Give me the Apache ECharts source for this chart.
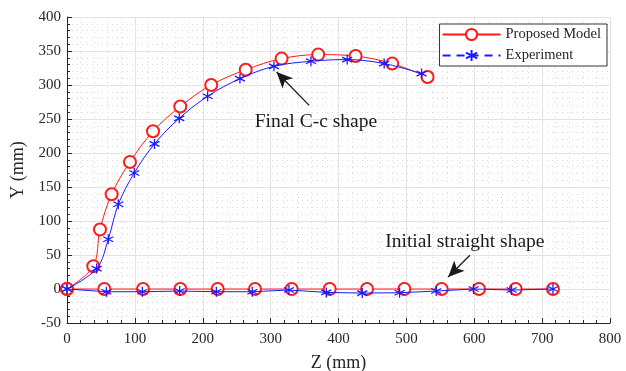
<!DOCTYPE html>
<html>
<head>
<meta charset="utf-8">
<script src="https://cdn.jsdelivr.net/npm/echarts@6/dist/echarts.min.js"></script>
<style>
  html, body { margin: 0; padding: 0; background: #fff; }
  #chart { width: 626px; height: 371px; }
</style>
</head>
<body>
<div id="chart"></div>
<script>
// final C-c shape (top curve)
const finalZModel = [0, 38.7, 48.6, 65.8, 92.8, 126.7, 166.9, 212.5, 263.3, 316.2, 370.1, 425.2, 479.1, 531.2];
const finalYModel = [0, 33.4, 87.4, 139.3, 186.8, 231.9, 268.4, 300.1, 322.4, 338.8, 344.7, 342.6, 331.5, 311.8];
const finalZExp = [0, 43.7, 60.8, 75.6, 99.1, 128.9, 165.4, 207.2, 254.8, 304.9, 359.4, 412.8, 467.3, 522.4];
const finalYExp = [0, 30, 73.1, 124.6, 170.6, 213.4, 251, 283.4, 309.4, 327.5, 334.9, 337.4, 331.5, 316.8];

// initial straight shape (bottom line)
const initZModel = [0, 55, 112, 167, 222, 277, 331, 387, 442, 497, 552, 607, 661, 716];
const initYModel = [0, 0, 0, 0, 0, 0, 0, 0, 0, 0, 0, 0, 0, 0];
const initZExp = [0, 58, 111, 166, 220, 273, 327, 382, 435, 490, 544, 599, 655, 716];
const initYExp = [0, -4, -4, -3, -4, -4, -1.5, -5, -6, -5.5, -3, 0, -1.5, 0];

const xTicks = [0, 100, 200, 300, 400, 500, 600, 700, 800];
const yTicks = [-50, 0, 50, 100, 150, 200, 250, 300, 350, 400];

const zip = (xs, ys) => xs.map((x, i) => [x, ys[i]]);

const RED = '#ff1a1a';
const BLUE = '#1a1aff';
const FONT = '"Liberation Serif", "DejaVu Serif", serif';
const star = 'path://M0,-5L0,5M-4.33,-2.5L4.33,2.5M-4.33,2.5L4.33,-2.5';

const chart = echarts.init(document.getElementById('chart'), null, { renderer: 'canvas' });

const axisCommon = {
  axisLine: { show: true, onZero: false, lineStyle: { color: '#262626', width: 1 } },
  axisTick: { show: true, inside: true, length: 5, lineStyle: { color: '#262626' } },
  minorTick: { show: true, splitNumber: 5, length: 3, lineStyle: { color: '#262626' } },
  splitLine: { show: true, lineStyle: { color: '#e3e3e3', width: 1 } },
  minorSplitLine: { show: true, lineStyle: { color: '#dadada', type: [1, 4], width: 1 } },
  axisLabel: { color: '#262626', fontFamily: FONT, fontSize: 15 },
  nameTextStyle: { color: '#262626', fontFamily: FONT, fontSize: 18 },
  nameLocation: 'middle'
};

const modelStyle = {
  type: 'line',
  name: 'Proposed Model',
  symbol: 'emptyCircle',
  symbolSize: 12,
  color: RED,
  lineStyle: { color: RED, width: 1 },
  itemStyle: { color: RED, borderWidth: 1 },
  z: 2
};
const expStyle = {
  type: 'line',
  name: 'Experiment',
  symbol: star,
  symbolSize: 10,
  color: BLUE,
  lineStyle: { color: BLUE, width: 1 },
  itemStyle: { color: BLUE, borderColor: BLUE, borderWidth: 1.3 },
  z: 3
};

const option = {
  animation: false,
  backgroundColor: '#fff',
  grid: { left: 67, right: 16, top: 17, bottom: 48, outerBoundsMode: 'none', containLabel: false },
  legend: {
    orient: 'vertical',
    right: 19,
    top: 24,
    backgroundColor: '#fff',
    borderColor: '#333',
    borderWidth: 1,
    borderRadius: 0,
    padding: [3, 6, 3, 2],
    itemGap: 6,
    itemWidth: 58,
    itemHeight: 14,
    textStyle: { fontFamily: FONT, fontSize: 14.5, color: '#262626' },
    data: [
      { name: 'Proposed Model' },
      { name: 'Experiment', lineStyle: { type: [8, 6] } }
    ]
  },
  xAxis: Object.assign({}, axisCommon, {
    type: 'value',
    min: xTicks[0],
    max: xTicks[xTicks.length - 1],
    interval: 100,
    name: 'Z (mm)',
    nameGap: 31,
    axisLabel: Object.assign({}, axisCommon.axisLabel, { margin: 9 })
  }),
  yAxis: Object.assign({}, axisCommon, {
    type: 'value',
    min: yTicks[0],
    max: yTicks[yTicks.length - 1],
    interval: 50,
    name: 'Y (mm)',
    nameGap: 30,
    axisLabel: Object.assign({}, axisCommon.axisLabel, { margin: 6 })
  }),
  series: [
    Object.assign({}, modelStyle, { data: zip(initZModel, initYModel) }),
    Object.assign({}, expStyle, { data: zip(initZExp, initYExp) }),
    Object.assign({}, modelStyle, { data: zip(finalZModel, finalYModel), smooth: 0.35 }),
    Object.assign({}, expStyle, { data: zip(finalZExp, finalYExp), smooth: 0.35 }),
    {
      // annotation arrows
      type: 'line',
      data: [],
      silent: true,
      markLine: {
        silent: true,
        symbol: ['none', 'arrow'],
        symbolSize: [11, 16],
        label: { show: false },
        lineStyle: { color: '#1a1a1a', width: 1.3, type: 'solid' },
        data: [
          [{ coord: [356.8, 270.1] }, { coord: [308.8, 319.1] }],
          [{ coord: [593.5, 49.6] }, { coord: [561.6, 17.6] }]
        ]
      },
      markPoint: {
        silent: true,
        symbol: 'rect',
        symbolSize: 0,
        label: {
          show: true,
          position: 'inside',
          fontFamily: FONT,
          fontSize: 19.5,
          color: '#1a1a1a'
        },
        data: [
          { coord: [366.7, 245.6], value: 'Final C-c shape' },
          { coord: [586.2, 69.1], value: 'Initial straight shape' }
        ]
      }
    }
  ]
};

chart.setOption(option);
</script>
</body>
</html>
